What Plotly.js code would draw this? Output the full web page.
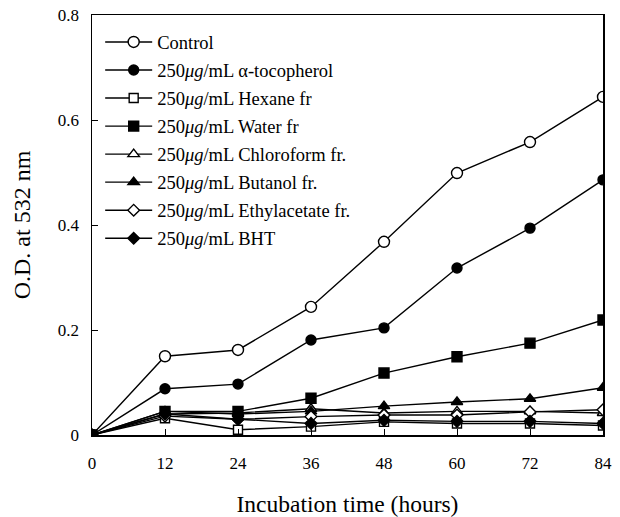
<!DOCTYPE html>
<html>
<head>
<meta charset="utf-8">
<script src="https://cdn.plot.ly/plotly-3.0.1.min.js"></script>
<style>html,body{margin:0;padding:0;background:#fff;}#chart{width:620px;height:517px;}</style>
</head>
<body>
<div id="chart"></div>
<script>
const hours = [0, 12, 24, 36, 48, 60, 72, 84];
const names = [
  "Control",
  "250<i>μg</i>/mL α-tocopherol",
  "250<i>μg</i>/mL Hexane fr",
  "250<i>μg</i>/mL Water fr",
  "250<i>μg</i>/mL Chloroform fr.",
  "250<i>μg</i>/mL Butanol fr.",
  "250<i>μg</i>/mL Ethylacetate fr.",
  "250<i>μg</i>/mL BHT"
];
const control      = [0, 0.150, 0.162, 0.244, 0.368, 0.499, 0.558, 0.644];
const tocopherol   = [0, 0.088, 0.097, 0.181, 0.204, 0.318, 0.394, 0.486];
const hexane       = [0, 0.032, 0.010, 0.016, 0.025, 0.022, 0.022, 0.018];
const water        = [0, 0.045, 0.045, 0.070, 0.118, 0.149, 0.175, 0.219];
const chloroform   = [0, 0.040, 0.042, 0.050, 0.042, 0.045, 0.045, 0.042];
const butanol      = [0, 0.045, 0.040, 0.045, 0.055, 0.063, 0.069, 0.090];
const ethylacetate = [0, 0.036, 0.030, 0.035, 0.038, 0.038, 0.044, 0.048];
const bht          = [0, 0.040, 0.030, 0.022, 0.028, 0.026, 0.026, 0.022];

const series = [control, tocopherol, hexane, water, chloroform, butanol, ethylacetate, bht];
const styles = [
  {symbol: 'circle', fill: 'white', size: 11},
  {symbol: 'circle', fill: 'black', size: 10},
  {symbol: 'square', fill: 'white', size: 9},
  {symbol: 'square', fill: 'black', size: 10},
  {symbol: 'triangle-up', fill: 'white', size: 10},
  {symbol: 'triangle-up', fill: 'black', size: 10},
  {symbol: 'diamond', fill: 'white', size: 9},
  {symbol: 'diamond', fill: 'black', size: 9}
];

const traces = series.map((ys, i) => ({
  x: hours, y: ys, name: names[i], type: 'scatter', mode: 'lines+markers',
  legendgroup: 'g' + i,
  line: {color: 'black', width: 1.4},
  marker: {symbol: styles[i].symbol, size: styles[i].size, color: styles[i].fill,
           line: {color: 'black', width: 1.4}}
}));

const font = {family: 'Liberation Serif, Times New Roman, serif', color: 'black'};
const layout = {
  width: 620, height: 517,
  margin: {l: 92, r: 17, t: 15, b: 82},
  paper_bgcolor: 'white', plot_bgcolor: 'white',
  font: Object.assign({size: 17}, font),
  showlegend: true,
  legend: {x: 0.016, y: 0.98, xanchor: 'left', yanchor: 'top', bgcolor: 'rgba(0,0,0,0)',
           font: Object.assign({size: 18.5}, font), tracegroupgap: 1, itemwidth: 57},
  xaxis: {
    range: [0, 84], tickvals: hours, ticktext: hours.map(String),
    ticks: 'inside', ticklen: 6, tickcolor: 'black', showgrid: false, zeroline: false,
    showline: true, linecolor: 'black', linewidth: 1.5, mirror: true,
    ticklabelstandoff: 12, tickfont: Object.assign({size: 17}, font),
    title: {text: 'Incubation time (hours)', font: Object.assign({size: 23.5}, font), standoff: 24}
  },
  yaxis: {
    range: [0, 0.8], tickvals: [0, 0.2, 0.4, 0.6, 0.8], ticktext: ['0', '0.2', '0.4', '0.6', '0.8'],
    ticks: 'inside', ticklen: 6, tickcolor: 'black', showgrid: false, zeroline: false,
    showline: true, linecolor: 'black', linewidth: 1.5, mirror: true,
    ticklabelstandoff: 8, tickfont: Object.assign({size: 17}, font),
    title: {text: 'O.D. at 532 nm', font: Object.assign({size: 24}, font), standoff: 20}
  }
};
Plotly.newPlot('chart', traces, layout, {displayModeBar: false, staticPlot: true}).then(gd => {
  // lengthen legend symbol lines and tighten gap before the text
  gd.querySelectorAll('.legend .traces').forEach(g => {
    const p = g.querySelector('.legendlines path');
    const t = g.querySelector('text.legendtext');
    if (p && t) {
      p.setAttribute('d', 'M5,0h47');
      t.setAttribute('x', 57);
    }
  });
});
</script>
</body>
</html>
